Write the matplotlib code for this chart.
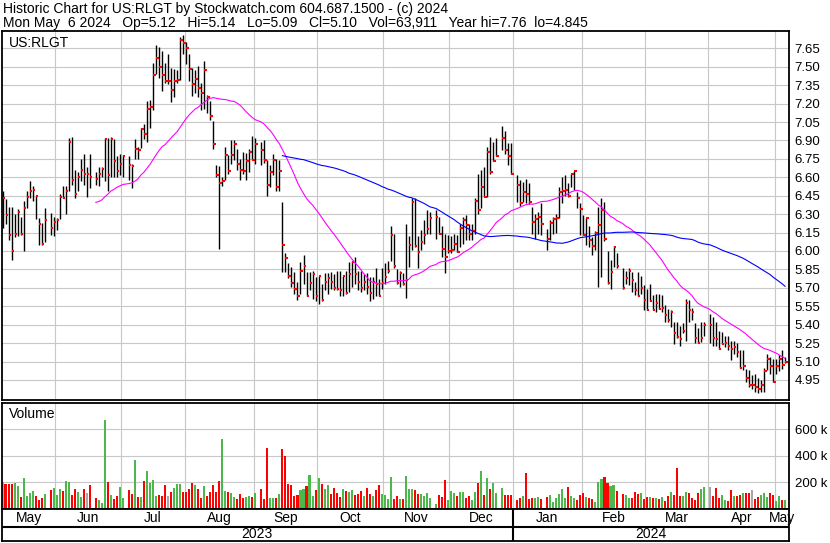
import matplotlib
matplotlib.use('Agg')
import matplotlib.pyplot as plt
import numpy as np
import pandas as pd

# one entry per trading day, May 8 2023 .. May 6 2024 (gaps = market holidays)
high = [
    6.49, 6.42, 6.36, 6.36, 6.30, 6.34, 6.28, 6.41, 6.49, 6.57, 6.53, 6.45, 6.27, 6.23, 6.35,
    6.31, 6.28, 6.27, 6.46, 6.53, 6.53, 6.92, 6.93, 6.66, 6.64, 6.75, 6.79, 6.68, 6.79,
    6.64, 6.68, 6.68, 6.92, 6.92, 6.93, 6.91, 6.77, 6.79, 6.78,
    6.77, 6.71, 6.91, 6.85, 7.00, 7.03, 7.22, 7.23, 7.53, 7.68, 7.66, 7.63, 7.53, 7.60, 7.49,
    7.48, 7.47, 7.74, 7.76, 7.70, 7.60, 7.49, 7.47, 7.51, 7.37, 7.55, 7.27, 7.22, 7.06, 6.70,
    6.69, 6.60, 6.85, 6.78, 6.90, 6.90, 6.83, 6.75, 6.81, 6.80, 6.83, 6.94, 6.92,
    6.89, 6.90, 6.74, 6.70, 6.79, 6.75, 6.74, 6.40, 5.98, 5.90, 5.87, 5.83, 5.75, 5.91, 5.97,
    5.83, 5.83, 5.84, 5.79, 5.80, 5.73, 5.82, 5.82, 5.83, 5.81, 5.84, 5.84, 5.80, 5.84, 5.91,
    5.92, 5.95, 5.84, 5.84, 5.81, 5.82, 5.79, 5.79, 5.86, 5.77, 5.86, 5.90, 5.92, 6.20, 6.14,
    5.85, 5.84, 5.82, 6.22, 6.12, 6.43, 6.43, 6.12, 6.17, 6.25, 6.33, 6.32,
    6.33, 6.28, 6.20, 6.14, 6.13, 6.12, 6.14, 6.13, 6.22, 6.28, 6.29, 6.22, 6.22, 6.43, 6.63,
    6.66, 6.68, 6.85, 6.93, 6.89, 6.92,
    7.02, 6.98, 6.88, 6.88,
    6.62, 6.58, 6.56, 6.59, 6.55, 6.36, 6.30, 6.32, 6.39,
    6.18, 6.25, 6.28, 6.30, 6.52, 6.60, 6.62, 6.55, 6.63, 6.65, 6.48, 6.39, 6.29, 6.27, 6.20,
    6.11, 6.16, 6.36, 6.43, 6.40, 6.00, 5.93, 6.04, 5.98,
    5.86, 5.84, 5.86, 5.83, 5.75, 5.83, 5.80, 5.72, 5.69, 5.73, 5.64, 5.65, 5.65, 5.64, 5.56,
    5.53, 5.52, 5.42, 5.42, 5.39, 5.41, 5.61, 5.60, 5.54, 5.41, 5.37, 5.42, 5.42,
    5.49, 5.46, 5.42, 5.35, 5.34, 5.31, 5.31, 5.27, 5.27, 5.25, 5.19, 5.19, 5.04, 5.03, 4.99,
    5.00, 4.97, 4.95, 5.05, 5.16, 5.14, 5.12, 5.12, 5.15, 5.19, 5.14,
]
low = [
    6.19, 6.22, 6.09, 5.93, 6.11, 6.12, 6.13, 6.00, 6.35, 6.43, 6.41, 6.26, 6.05, 6.05, 6.07,
    6.13, 6.12, 6.17, 6.26, 6.43, 6.30, 6.49, 6.54, 6.43, 6.49, 6.57, 6.54, 6.44, 6.51,
    6.54, 6.53, 6.60, 6.57, 6.49, 6.60, 6.60, 6.60, 6.62, 6.60,
    6.58, 6.51, 6.75, 6.75, 6.84, 6.91, 6.89, 7.00, 7.15, 7.44, 7.41, 7.30, 7.37, 7.36, 7.21,
    7.25, 7.37, 7.39, 7.60, 7.52, 7.38, 7.26, 7.29, 7.25, 7.15, 7.16, 7.12, 7.07, 6.83, 6.60,
    6.02, 6.53, 6.58, 6.63, 6.71, 6.74, 6.66, 6.58, 6.63, 6.58, 6.64, 6.74, 6.71,
    6.70, 6.72, 6.45, 6.52, 6.62, 6.49, 6.49, 5.83, 5.83, 5.78, 5.71, 5.65, 5.60, 5.65, 5.73,
    5.63, 5.68, 5.61, 5.59, 5.57, 5.59, 5.68, 5.65, 5.69, 5.68, 5.68, 5.63, 5.63, 5.65, 5.67,
    5.71, 5.73, 5.68, 5.67, 5.68, 5.65, 5.59, 5.61, 5.63, 5.63, 5.69, 5.73, 5.82, 5.92, 5.86,
    5.73, 5.71, 5.72, 5.62, 5.87, 6.01, 6.03, 5.86, 6.01, 6.06, 6.14, 6.14,
    6.10, 6.14, 5.95, 5.82, 5.98, 5.98, 6.01, 5.99, 6.03, 6.06, 6.09, 6.09, 6.09, 6.14, 6.30,
    6.35, 6.44, 6.44, 6.63, 6.73, 6.77,
    6.82, 6.79, 6.70, 6.63,
    6.40, 6.37, 6.40, 6.39, 6.38, 6.14, 6.10, 6.14, 6.13,
    6.01, 6.09, 6.14, 6.15, 6.27, 6.39, 6.45, 6.44, 6.52, 6.50, 6.35, 6.13, 6.13, 6.05, 6.03,
    5.97, 6.01, 5.71, 5.79, 6.08, 5.73, 5.69, 5.87, 5.86,
    5.69, 5.73, 5.72, 5.67, 5.64, 5.63, 5.65, 5.52, 5.52, 5.59, 5.52, 5.50, 5.53, 5.50, 5.42,
    5.42, 5.38, 5.24, 5.29, 5.23, 5.33, 5.27, 5.42, 5.44, 5.25, 5.25, 5.26, 5.31,
    5.25, 5.23, 5.23, 5.20, 5.24, 5.22, 5.19, 5.11, 5.16, 5.14, 5.05, 5.03, 4.93, 4.89, 4.88,
    4.85, 4.845, 4.85, 4.85, 5.03, 5.00, 4.93, 5.00, 5.02, 5.04, 5.09,
]
close = [
    6.43, 6.29, 6.13, 6.00, 6.14, 6.32, 6.14, 6.35, 6.44, 6.49, 6.50, 6.45, 6.22, 6.06, 6.25,
    6.19, 6.24, 6.25, 6.44, 6.43, 6.49, 6.89, 6.58, 6.46, 6.60, 6.66, 6.63, 6.63, 6.60,
    6.59, 6.63, 6.67, 6.91, 6.62, 6.91, 6.73, 6.65, 6.71, 6.77,
    6.70, 6.69, 6.83, 6.82, 6.99, 6.95, 7.16, 7.17, 7.43, 7.57, 7.50, 7.43, 7.38, 7.38, 7.31,
    7.38, 7.39, 7.72, 7.69, 7.65, 7.48, 7.36, 7.40, 7.33, 7.29, 7.47, 7.25, 7.10, 6.87, 6.62,
    6.55, 6.57, 6.78, 6.65, 6.78, 6.87, 6.71, 6.66, 6.65, 6.73, 6.81, 6.74, 6.87,
    6.82, 6.74, 6.54, 6.64, 6.74, 6.52, 6.65, 6.05, 5.94, 5.80, 5.74, 5.69, 5.63, 5.84, 5.88,
    5.63, 5.74, 5.81, 5.63, 5.80, 5.60, 5.75, 5.78, 5.75, 5.70, 5.69, 5.68, 5.80, 5.66, 5.81,
    5.91, 5.81, 5.75, 5.70, 5.75, 5.71, 5.66, 5.75, 5.73, 5.63, 5.74, 5.79, 5.84, 6.13, 5.88,
    5.74, 5.82, 5.73, 5.76, 6.05, 6.40, 6.04, 5.99, 6.07, 6.13, 6.18, 6.27,
    6.28, 6.14, 6.02, 5.95, 6.00, 6.01, 6.06, 5.99, 6.19, 6.25, 6.21, 6.14, 6.16, 6.41, 6.33,
    6.52, 6.44, 6.81, 6.64, 6.73, 6.77,
    6.92, 6.82, 6.77, 6.63,
    6.54, 6.39, 6.48, 6.46, 6.40, 6.24, 6.26, 6.28, 6.22,
    6.10, 6.23, 6.26, 6.27, 6.48, 6.49, 6.50, 6.45, 6.63, 6.65, 6.43, 6.34, 6.13, 6.27, 6.09,
    6.04, 6.15, 6.21, 6.33, 6.10, 5.74, 5.83, 6.03, 5.88,
    5.70, 5.78, 5.84, 5.76, 5.68, 5.63, 5.70, 5.60, 5.52, 5.59, 5.52, 5.58, 5.53, 5.54, 5.48,
    5.44, 5.50, 5.33, 5.30, 5.28, 5.35, 5.58, 5.52, 5.50, 5.29, 5.25, 5.29, 5.40,
    5.40, 5.29, 5.28, 5.20, 5.24, 5.25, 5.23, 5.20, 5.22, 5.18, 5.05, 5.06, 4.97, 4.91, 4.91,
    4.89, 4.88, 4.91, 5.02, 5.12, 5.06, 4.93, 5.06, 5.12, 5.07, 5.10,
]
# daily volume, thousands of shares
volume = [
    202, 185, 185, 185, 192, 172, 90, 232, 97, 117, 135, 97, 67, 80, 112,
    142, 155, 105, 150, 137, 210, 202, 105, 150, 127, 92, 150, 117, 180,
    80, 67, 42, 667, 202, 105, 72, 97, 165, 85,
    142, 112, 367, 92, 87, 210, 285, 192, 217, 97, 105, 100, 180, 97, 130,
    155, 185, 187, 127, 130, 147, 192, 180, 150, 85, 172, 97, 130, 180, 130,
    210, 525, 135, 127, 117, 87, 77, 112, 82, 92, 97, 92, 117,
    150, 75, 455, 80, 80, 80, 112, 447, 397, 185, 180, 97, 102, 142, 150,
    172, 255, 97, 142, 230, 185, 150, 177, 112, 157, 117, 92, 150, 135, 127,
    142, 105, 112, 135, 97, 160, 115, 97, 142, 180, 112, 105, 77, 237, 77,
    97, 77, 77, 247, 150, 150, 142, 110, 112, 97, 117, 85,
    37, 105, 92, 217, 67, 135, 117, 97, 127, 127, 85, 97, 67, 127, 197,
    285, 105, 230, 150, 192, 122,
    160, 105, 105, 105,
    67, 85, 97, 272, 72, 85, 80, 87, 72,
    87, 105, 55, 80, 112, 147, 80, 167, 97, 85, 67, 105, 117, 92, 80,
    72, 55, 202, 225, 237, 192, 172, 180, 135,
    112, 105, 85, 85, 127, 110, 117, 75, 92, 87, 80, 80, 75, 92, 60,
    97, 127, 105, 310, 97, 97, 130, 117, 85, 67, 122, 150, 162,
    167, 97, 160, 80, 105, 67, 60, 142, 97, 97, 105, 122, 122, 122, 142,
    77, 87, 105, 117, 92, 117, 102, 60, 97, 67, 64,
]
holidays = ['2023-05-29', '2023-06-19', '2023-07-04', '2023-09-04', '2023-11-23',
            '2023-12-25', '2024-01-01', '2024-01-15', '2024-02-19', '2024-03-29']
price_ticks = [4.95, 5.10, 5.25, 5.40, 5.55, 5.70, 5.85, 6.00, 6.15, 6.30, 6.45,
               6.60, 6.75, 6.90, 7.05, 7.20, 7.35, 7.50, 7.65]
vol_ticks = [200, 400, 600]

title1 = 'Historic Chart for US:RLGT by Stockwatch.com 604.687.1500 - (c) 2024'
title2 = 'Mon May  6 2024   Op=5.12   Hi=5.14   Lo=5.09   Cl=5.10   Vol=63,911   Year hi=7.76  lo=4.845'

plt.rcParams['font.family'] = ['Liberation Sans', 'DejaVu Sans']

# x position = weekday slot, so holidays leave a gap
days = pd.bdate_range('2023-05-08', '2024-05-06')
trade = days[~days.isin(pd.to_datetime(holidays))]
x = days.get_indexer(trade)

close_s = pd.Series(close)
ma30 = close_s.rolling(30).mean()
ma90 = close_s.rolling(90).mean()
chg = close_s.diff()
vcol = np.where(chg > 0, '#4cb84c', np.where(chg < 0, '#ff0000', '#a8a8a8'))

W, H = 830, 543
fig = plt.figure(figsize=(W / 100, H / 100), dpi=100)


def box(top, bottom, left=2, right=789):
    return [left / W, 1 - bottom / H, (right - left) / W, (bottom - top) / H]


axp = fig.add_axes(box(31, 400))
axv = fig.add_axes(box(402.5, 509))
axd = fig.add_axes(box(509, 541))
xmin, xmax = -0.17, 261.3
grid = '#c8c8c8'

# month boundaries at first weekday of each month
first = days.to_series().groupby(days.to_period('M')).first()
mpos = days.get_indexer(first) - 0.5
bounds = [xmin] + list(mpos[1:]) + [xmax]

for ax in (axp, axv, axd):
    ax.set_xlim(xmin, xmax)
    ax.set_xticks([])
    for s in ax.spines.values():
        s.set_color('black')
        s.set_linewidth(1.3)

# price panel
axp.set_ylim(4.787, 7.791)
for m in mpos[1:]:
    axp.axvline(m, color=grid, lw=0.8, zorder=0)
    axv.axvline(m, color=grid, lw=0.8, zorder=0)
axp.set_yticks(price_ticks)
axp.set_yticklabels(['%.2f' % t for t in price_ticks])
axp.grid(axis='y', color=grid, lw=0.8, zorder=0)
axp.vlines(x, low, high, color='black', lw=1.0, zorder=2)
axp.hlines(close, x, x + 0.85, color='#ff0000', lw=1.5, zorder=3)
axp.plot(x, ma30, color='#ff00ff', lw=0.8, zorder=4)
axp.plot(x, ma90, color='#0000ff', lw=0.8, zorder=4)
axp.text(7 / 787, 1 - 5 / 369, 'US:RLGT', transform=axp.transAxes,
         va='top', ha='left', fontsize=10)

# volume panel
axv.set_ylim(0, 800)
axv.set_yticks(vol_ticks)
axv.set_yticklabels(['%d k' % v for v in vol_ticks])
axv.grid(axis='y', color=grid, lw=0.8, zorder=0)
axv.bar(x, volume, width=0.68, color=vcol, zorder=2)
axv.text(7 / 787, 1 - 5 / 106.5, 'Volume', transform=axv.transAxes,
         va='top', ha='left', fontsize=10)

for ax in (axp, axv):
    ax.yaxis.tick_right()
    ax.tick_params(axis='y', length=0, pad=4, labelsize=9.5, colors='black')
    ax.set_axisbelow(True)

# date rows
axd.set_ylim(0, 32)
axd.set_yticks([])
axd.axhline(14, color='black', lw=1.5)
jan = mpos[list(first.index.month).index(1)]
axd.plot([jan, jan], [0, 32], color='black', lw=1.5)
for i, d in enumerate(first.index):
    axd.text((bounds[i] + bounds[i + 1]) / 2, 23, d.strftime('%b'), ha='center',
             va='center', fontsize=10, clip_on=False, zorder=1)
axd.text((xmin + jan) / 2, 7, '2023', ha='center', va='center', fontsize=10)
axd.text((jan + xmax) / 2, 7, '2024', ha='center', va='center', fontsize=10)

fig.text(3 / W, 1 - 2 / H, title1, va='top', ha='left', fontsize=10)
fig.text(3 / W, 1 - 16 / H, title2, va='top', ha='left', fontsize=10)

fig.savefig('out.png', dpi=100)
